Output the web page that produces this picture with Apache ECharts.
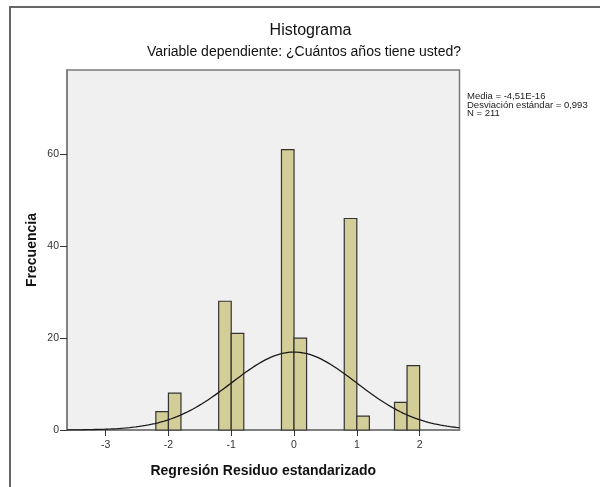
<!DOCTYPE html>
<html>
<head>
<meta charset="utf-8">
<script src="https://cdn.jsdelivr.net/npm/echarts@6/dist/echarts.min.js"></script>
<style>
  html, body { margin: 0; padding: 0; background: #ffffff; }
  #chart { width: 600px; height: 487px; }
</style>
</head>
<body>
<div id="chart"></div>
<script>
// Histogram bins of the standardized residuals (left edge of each bin) and their frequencies
const binStarts = [-2.2, -2.0, -1.2, -1.0, -0.2, 0.0, 0.8, 1.0, 1.6, 1.8];
const binWidth = 0.2;
const counts = [4, 8, 28, 21, 61, 20, 46, 3, 6, 14];

// Axis ticks
const xTicks = [-3, -2, -1, 0, 1, 2];
const yTicks = [0, 20, 40, 60];

// Summary statistics shown beside the plot
const mean = -4.51e-16;
const stdDev = 0.993;
const total = 211;
const statLines = ['Media = -4,51E-16', 'Desviación estándar = 0,993', 'N = 211'];

const xMin = -3.615, xMax = 2.635;
const yMax = 78.3;

const binData = binStarts.map((s, i) => [s, s + binWidth, counts[i]]);

// Fitted normal curve, scaled to frequency per bin
const normalCurve = [];
for (let k = 0; k <= 250; k++) {
  const x = xMin + (xMax - xMin) * k / 250;
  const z = (x - mean) / stdDev;
  const y = total * binWidth / (stdDev * Math.sqrt(2 * Math.PI)) * Math.exp(-0.5 * z * z);
  normalCurve.push([x, y]);
}

const FONT = 'Liberation Sans, Arial, sans-serif';
const chart = echarts.init(document.getElementById('chart'));

chart.setOption({
  animation: false,
  backgroundColor: '#ffffff',
  grid: {
    left: 67, top: 70, right: 140.5, bottom: 57,
    show: true, backgroundColor: '#f0f0f0',
    borderColor: '#7a7a7a', borderWidth: 1.5
  },
  xAxis: {
    type: 'value', min: xMin, max: xMax,
    name: 'Regresión Residuo estandarizado',
    nameLocation: 'middle', nameGap: 34, nameMoveOverlap: false,
    nameTextStyle: { fontFamily: FONT, fontSize: 14, fontWeight: 'bold', color: '#111' },
    axisLine: { show: true, onZero: false, lineStyle: { color: '#7a7a7a', width: 1.5 } },
    axisTick: { show: true, length: 6, customValues: xTicks, lineStyle: { color: '#333' } },
    axisLabel: { customValues: xTicks, fontFamily: FONT, fontSize: 10.5, color: '#333', margin: 10 },
    splitLine: { show: false }
  },
  yAxis: {
    type: 'value', min: 0, max: yMax,
    name: 'Frecuencia',
    nameLocation: 'middle', nameGap: 28, nameMoveOverlap: false,
    nameTextStyle: { fontFamily: FONT, fontSize: 14, fontWeight: 'bold', color: '#111' },
    axisLine: { show: true, onZero: false, lineStyle: { color: '#7a7a7a', width: 1.5 } },
    axisTick: { show: true, length: 7, customValues: yTicks, lineStyle: { color: '#333' } },
    axisLabel: { customValues: yTicks, fontFamily: FONT, fontSize: 10.5, color: '#333', margin: 8 },
    splitLine: { show: false }
  },
  graphic: [
    {
      type: 'rect', silent: true, z: -10,
      shape: { x: 10, y: 7, width: 620, height: 500 },
      style: { fill: 'none', stroke: '#666', lineWidth: 2 }
    },
    {
      type: 'text', x: 310.5, y: 31,
      style: { text: 'Histograma', fontFamily: FONT, fontSize: 16, fill: '#111',
               textAlign: 'center', textVerticalAlign: 'middle' }
    },
    {
      type: 'text', x: 304, y: 52,
      style: { text: 'Variable dependiente: ¿Cuántos años tiene usted?', fontFamily: FONT, fontSize: 14, fill: '#111',
               textAlign: 'center', textVerticalAlign: 'middle' }
    },
    {
      type: 'text', x: 467, y: 92.5,
      style: { text: statLines.join('\n'), fontFamily: FONT, fontSize: 9.5, lineHeight: 8.3, fill: '#222' }
    }
  ],
  series: [
    {
      type: 'custom',
      data: binData,
      encode: { x: [0, 1], y: 2 },
      renderItem: function (params, api) {
        const topLeft = api.coord([api.value(0), api.value(2)]);
        const bottomRight = api.coord([api.value(1), 0]);
        return {
          type: 'rect',
          shape: { x: topLeft[0], y: topLeft[1], width: bottomRight[0] - topLeft[0], height: bottomRight[1] - topLeft[1] },
          style: { fill: '#d3ce97', stroke: '#333', lineWidth: 1.2 }
        };
      },
      z: 2
    },
    {
      type: 'line',
      data: normalCurve,
      showSymbol: false,
      lineStyle: { color: '#1a1a1a', width: 1.3 },
      z: 3
    }
  ]
});
</script>
</body>
</html>
